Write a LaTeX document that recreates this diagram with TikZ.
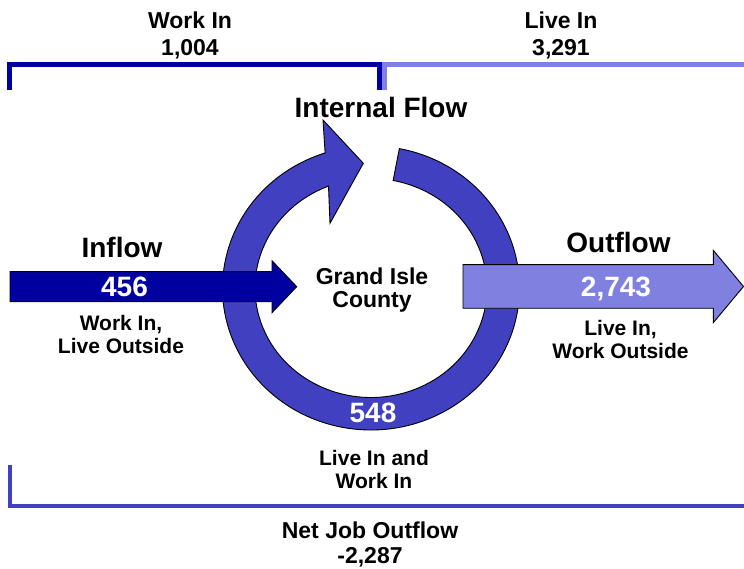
\documentclass[tikz,border=0pt]{standalone}
\usepackage{fontspec}
\setmainfont{Liberation Sans}
\definecolor{flowdark}{RGB}{0,0,160}
\definecolor{flowmid}{RGB}{64,64,192}
\definecolor{flowlight}{RGB}{128,128,224}

\begin{document}
\begin{tikzpicture}[x=1pt,y=1pt,
		smalltext/.style={inner sep=0pt,anchor=north,align=center,font=\fontsize{21}{23}\selectfont\bfseries},
		midtext/.style={inner sep=0pt,anchor=north,align=center,font=\fontsize{23}{27}\selectfont\bfseries},
		bigtext/.style={inner sep=0pt,anchor=north,align=center,font=\fontsize{28}{32}\selectfont\bfseries},
		blockline/.style={draw=black,line width=0.9pt,line join=miter},
		bracket/.style={line width=5pt,line join=miter}]
		\useasboundingbox (0,0) rectangle (744,569);
		
		% brackets
		\draw[bracket,flowdark] (9.5,479) -- (9.5,504.5) -- (379.5,504.5) -- (379.5,479);
		\draw[bracket,flowlight] (384.5,479) -- (384.5,504.5) -- (744,504.5);
		\draw[bracket,flowmid,line width=4.5pt] (10,104) -- (10,63) -- (744,63);
		
		\node[midtext] (workin) at (190,557) {Work In\\1,004};
		\node[midtext] (livein) at (561,557) {Live In\\3,291};
		\node[bigtext] (internal) at (381,471.5) {Internal Flow};
		
		% internal flow ring
		\coordinate (hub) at (371,281);
		\filldraw[blockline,fill=flowmid] ([shift={(79:148.5 and 142)}]hub)
			arc[start angle=79,end angle=-252,x radius=148.5,y radius=142]
			-- (323,449) -- (363.3,405.7) -- (330,345.7)
			-- ([shift={(-248.5:116 and 109.5)}]hub)
			arc[start angle=-248.5,end angle=79,x radius=116,y radius=109.5] -- cycle;
		
		% inflow and outflow
		\filldraw[blockline,fill=flowdark] (10,267.3) -- (272,267.3) -- (272,256.3) -- (296.7,282.3)
			-- (272,308.3) -- (272,297.3) -- (10,297.3) -- cycle;
		\filldraw[blockline,fill=flowlight] (463,260.7) -- (713.3,260.7) -- (713.3,246.3) -- (743.5,282.5)
			-- (713.3,318.7) -- (713.3,304.3) -- (463,304.3) -- cycle;
		
		\node[bigtext] (inflow) at (122,332.3) {Inflow};
		\node[bigtext,white] (inval) at (124.5,292) {456};
		\node[smalltext] (indesc) at (121,254) {Work In,\\Live Outside};
		
		\node[bigtext] (outflow) at (618.5,337) {Outflow};
		\node[bigtext,white] (outval) at (616,292) {2,743};
		\node[smalltext] (outdesc) at (620.5,249) {Live In,\\Work Outside};
		
		\node[midtext,font=\fontsize{23}{23}\selectfont\bfseries] (county) at (372,301) {Grand Isle\\County};
		\node[bigtext,white] (ringval) at (373,166) {548};
		\node[smalltext] (ringdesc) at (374,119) {Live In and\\Work In};
		
		\node[midtext,font=\fontsize{23}{25}\selectfont\bfseries] (net) at (370,47) {Net Job Outflow\\-2,287};
	\end{tikzpicture}
\end{document}
